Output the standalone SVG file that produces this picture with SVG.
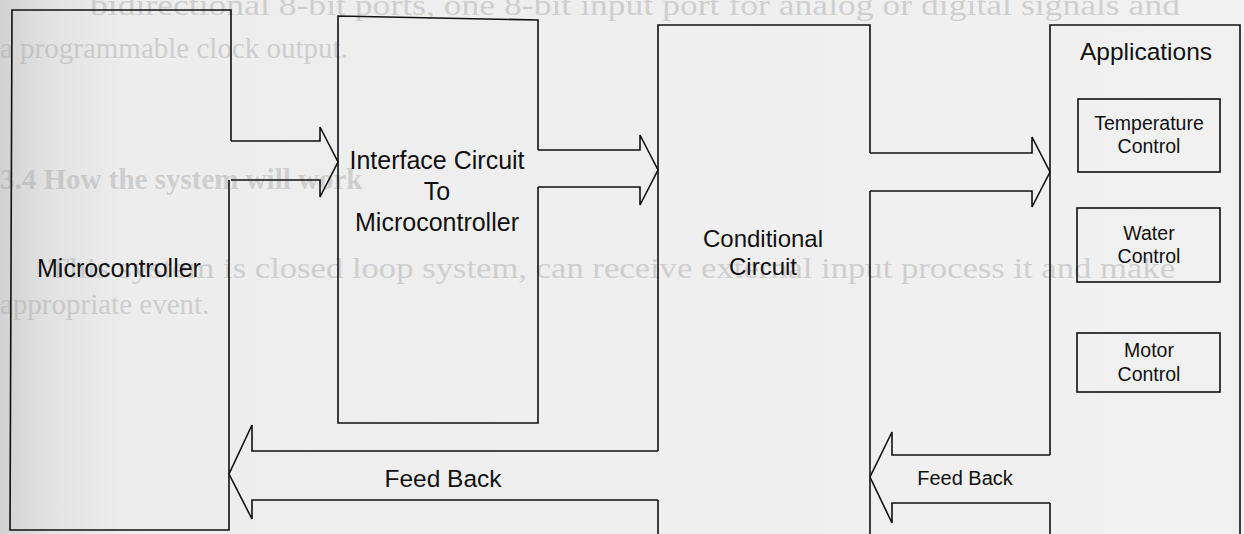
<svg xmlns="http://www.w3.org/2000/svg" width="1244" height="534" viewBox="0 0 1244 534">
<defs>
<linearGradient id="page" x1="0" y1="0" x2="1" y2="0">
<stop offset="0" stop-color="#d2d2d2"/>
<stop offset="0.04" stop-color="#e2e2e2"/>
<stop offset="0.1" stop-color="#ededed"/>
<stop offset="1" stop-color="#f1f1f1"/>
</linearGradient>
<style>
.ln{fill:none;stroke:#111;stroke-width:1.6;stroke-linejoin:miter}
.bx{fill:none;stroke:#111;stroke-width:1.6}
.t{font-family:"Liberation Sans",Arial,sans-serif;fill:#111}
.big{font-size:25px}
.sm{font-size:19.5px}
.fb{font-family:"Liberation Serif","Times New Roman",serif;font-size:29px;fill:#a0a0a0;opacity:0.4}
</style>
</defs>
<rect x="0" y="0" width="1244" height="534" fill="url(#page)"/>
<g id="showthrough">
<text class="fb" x="90" y="15" textLength="1090" lengthAdjust="spacingAndGlyphs">bidirectional 8-bit ports, one 8-bit input port for analog or digital signals and</text>
<text class="fb" x="0" y="58">a programmable clock output.</text>
<text class="fb" x="0" y="189" font-weight="bold">3.4 How the system will work</text>
<text class="fb" x="48" y="278" textLength="1127" lengthAdjust="spacingAndGlyphs">This system is closed loop system, can receive external input process it and make</text>
<text class="fb" x="0" y="314">appropriate event.</text>
</g>
<g id="microcontroller">
<path class="ln" d="M231,141 V10 H12 L10,530 H229 V180"/>
<text class="t big" x="37" y="277">Microcontroller</text>
</g>
<g id="interface">
<path class="ln" d="M538,150 V20 L338,16 V423 H538 V187"/>
<text class="t big" x="437" y="169" text-anchor="middle">Interface Circuit</text>
<text class="t big" x="437" y="200" text-anchor="middle">To</text>
<text class="t big" x="437" y="231" text-anchor="middle">Microcontroller</text>
</g>
<g id="conditional">
<path class="ln" d="M870,153 V25 H658 V451"/>
<path class="ln" d="M658,500 V534"/>
<path class="ln" d="M870,191 V534"/>
<text class="t" font-size="24" x="763" y="247" text-anchor="middle">Conditional</text>
<text class="t" font-size="24" x="763" y="275" text-anchor="middle">Circuit</text>
</g>
<g id="applications">
<path class="ln" d="M1050,455 V25 H1240 V534"/>
<path class="ln" d="M1050,503 V534"/>
<text class="t" font-size="24.5" x="1146" y="60" text-anchor="middle">Applications</text>
</g>
<g id="temperature">
<rect class="bx" x="1078" y="99" width="142" height="73"/>
<text class="t sm" x="1149" y="130" text-anchor="middle">Temperature</text>
<text class="t sm" x="1149" y="153" text-anchor="middle">Control</text>
</g>
<g id="water">
<rect class="bx" x="1077" y="208" width="143" height="74"/>
<text class="t sm" x="1149" y="240" text-anchor="middle">Water</text>
<text class="t sm" x="1149" y="263" text-anchor="middle">Control</text>
</g>
<g id="motor">
<rect class="bx" x="1077" y="333" width="143" height="59"/>
<text class="t sm" x="1149" y="357" text-anchor="middle">Motor</text>
<text class="t sm" x="1149" y="381" text-anchor="middle">Control</text>
</g>
<g id="connectors">
<path class="ln" d="M231,141 H320 V127 L338,162 L320,197 V180 H231"/>
<path class="ln" d="M538,150 H640 V135 L658,170 L640,205 V187 H538"/>
<path class="ln" d="M870,153 H1032 V137 L1050,172 L1032,207 V191 H870"/>
<path class="ln" d="M658,451 H252 V425 L229,474 L252,519 V500 H658"/>
<path class="ln" d="M1050,455 H892 V432 L870,477 L892,523 V503 H1050"/>
<text class="t" font-size="24.5" x="443" y="487" text-anchor="middle">Feed Back</text>
<text class="t" font-size="20" x="965" y="485" text-anchor="middle">Feed Back</text>
</g>
</svg>
